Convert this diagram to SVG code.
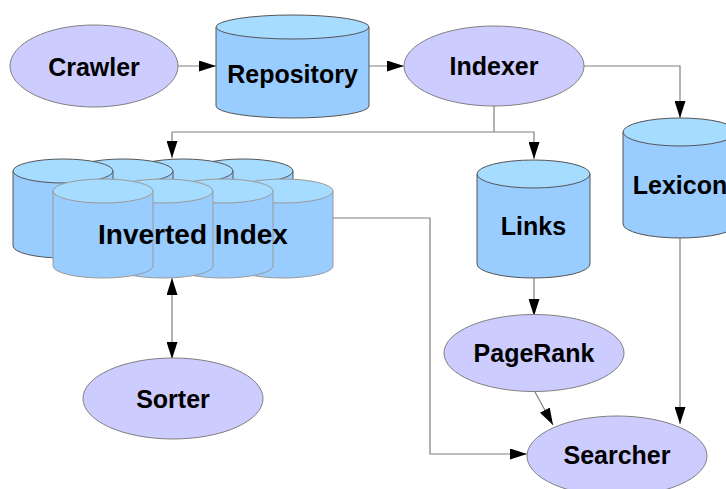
<svg xmlns="http://www.w3.org/2000/svg" width="726" height="489" viewBox="0 0 726 489">
  <defs>
    <marker id="arrow" markerUnits="userSpaceOnUse" markerWidth="17" markerHeight="11" refX="17" refY="5.5" orient="auto-start-reverse">
      <path d="M0,0 L17,5.5 L0,11 z" fill="#000"/>
    </marker>
    <style>
      .proc { fill: #ccccff; stroke: #808080; stroke-width: 1; }
      .body { fill: #99ccff; stroke: #555; stroke-width: 1; }
      .cap { fill: #a6dcff; stroke: #555; stroke-width: 1; }
      .front .body, .front .cap { stroke: #9a9a9a; }
      .lbl { font-family: "Liberation Sans", Arial, sans-serif; font-weight: bold; font-size: 25px; fill: #000; text-anchor: middle; }
      .big { font-size: 28px; }
      .conn { fill: none; stroke: #808080; stroke-width: 1.2; }
    </style>
  </defs>

  <rect width="726" height="489" fill="#fff"/>

  <!-- connectors -->
  <g id="connectors">
    <path class="conn" d="M178,66 H216" marker-end="url(#arrow)"/>
    <path class="conn" d="M369,66 H404" marker-end="url(#arrow)"/>
    <path class="conn" d="M584,66 H680 V118" marker-end="url(#arrow)"/>
    <path class="conn" d="M494,106 V132"/>
    <path class="conn" d="M172,132 H534 V159" marker-end="url(#arrow)"/>
    <path class="conn" d="M172,132 V158" marker-end="url(#arrow)"/>
    <path class="conn" d="M534,278 V316" marker-end="url(#arrow)"/>
    <path class="conn" d="M680,238 V424" marker-end="url(#arrow)"/>
    <path class="conn" d="M535,392 L553,425" marker-end="url(#arrow)"/>
    <path class="conn" d="M333,218 H430 V454 H527" marker-end="url(#arrow)"/>
    <path class="conn" d="M172,278 V359" marker-start="url(#arrow)" marker-end="url(#arrow)"/>
  </g>

  <g id="crawler">
    <ellipse class="proc" cx="94" cy="66" rx="84" ry="41"/>
    <text class="lbl" x="94" y="76">Crawler</text>
  </g>

  <g id="repository">
    <path class="body" d="M216,27 V106 A76.5,12 0 0 0 369,106 V27"/>
    <ellipse class="cap" cx="292.5" cy="27" rx="76.5" ry="12"/>
    <text class="lbl" x="292.5" y="83">Repository</text>
  </g>

  <g id="indexer">
    <ellipse class="proc" cx="494" cy="66" rx="90" ry="40"/>
    <text class="lbl" x="494" y="75">Indexer</text>
  </g>

  <g id="lexicon">
    <path class="body" d="M623,132 V224 A57,14 0 0 0 737,224 V132"/>
    <ellipse class="cap" cx="680" cy="132" rx="57" ry="14"/>
    <text class="lbl" x="680" y="194">Lexicon</text>
  </g>

  <g id="links">
    <path class="body" d="M477,174 V264 A56.5,14 0 0 0 590,264 V174"/>
    <ellipse class="cap" cx="533.5" cy="174" rx="56.5" ry="14"/>
    <text class="lbl" x="533.5" y="235">Links</text>
  </g>

  <g id="pagerank">
    <ellipse class="proc" cx="534" cy="353" rx="90" ry="38.5"/>
    <text class="lbl" x="534" y="362">PageRank</text>
  </g>

  <g id="searcher">
    <ellipse class="proc" cx="617" cy="456" rx="90" ry="40"/>
    <text class="lbl" x="617" y="464">Searcher</text>
  </g>

  <g id="sorter">
    <ellipse class="proc" cx="173" cy="398.5" rx="90" ry="40.5"/>
    <text class="lbl" x="173" y="408">Sorter</text>
  </g>

  <!-- inverted index: two staggered rows of four cylinders, leftmost on top -->
  <g id="inverted-index">
    <g class="back">
      <path class="body" d="M193,171 V246 A50,12 0 0 0 293,246 V171"/>
      <ellipse class="cap" cx="243" cy="171" rx="50" ry="12"/>
      <path class="body" d="M133,171 V246 A50,12 0 0 0 233,246 V171"/>
      <ellipse class="cap" cx="183" cy="171" rx="50" ry="12"/>
      <path class="body" d="M73,171 V246 A50,12 0 0 0 173,246 V171"/>
      <ellipse class="cap" cx="123" cy="171" rx="50" ry="12"/>
      <path class="body" d="M13,171 V246 A50,12 0 0 0 113,246 V171"/>
      <ellipse class="cap" cx="63" cy="171" rx="50" ry="12"/>
    </g>
    <g class="front">
      <path class="body" d="M233,191 V266 A50,12 0 0 0 333,266 V191"/>
      <ellipse class="cap" cx="283" cy="191" rx="50" ry="12"/>
      <path class="body" d="M173,191 V266 A50,12 0 0 0 273,266 V191"/>
      <ellipse class="cap" cx="223" cy="191" rx="50" ry="12"/>
      <path class="body" d="M113,191 V266 A50,12 0 0 0 213,266 V191"/>
      <ellipse class="cap" cx="163" cy="191" rx="50" ry="12"/>
      <path class="body" d="M53,191 V266 A50,12 0 0 0 153,266 V191"/>
      <ellipse class="cap" cx="103" cy="191" rx="50" ry="12"/>
    </g>
    <text class="lbl big" x="193" y="244">Inverted Index</text>
  </g>
</svg>
